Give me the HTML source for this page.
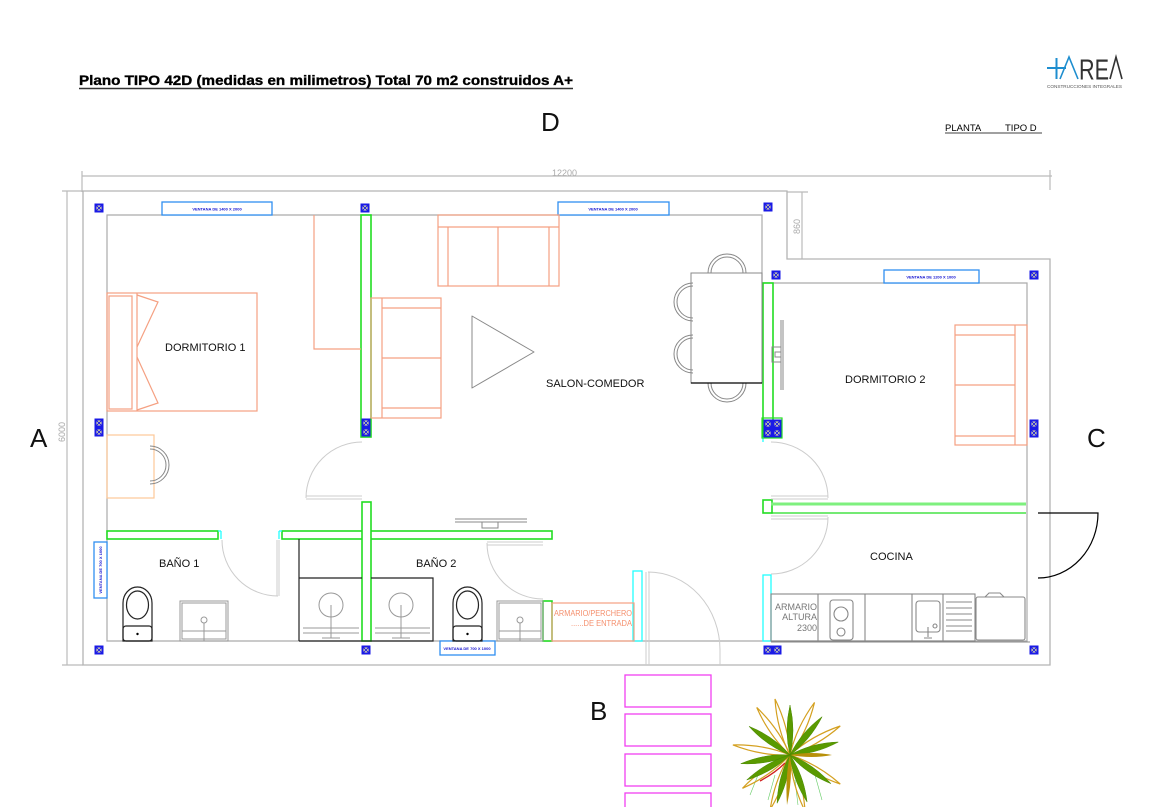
<!DOCTYPE html>
<html><head><meta charset="utf-8"><style>
html,body{margin:0;padding:0;background:#fff;}
svg{display:block;}
text{font-family:"Liberation Sans",sans-serif;}
</style></head><body>
<svg width="1165" height="807" viewBox="0 0 1165 807" xmlns="http://www.w3.org/2000/svg">
<defs>
<g id="col"><rect x="-4.5" y="-4.5" width="9" height="9" fill="#1a1ae6"/><rect x="-2.5" y="-2.5" width="5" height="5" fill="#e8e8a0"/><path d="M-3,-3L3,3M3,-3L-3,3" stroke="#1a1ae6" stroke-width="1"/></g>
<path id="leafG" d="M0,0Q6,-24 0,-50Q-6,-24 0,0Z" fill="#5a9a00" stroke="#4a8a00" stroke-width="0.5"/>
<path id="leafO" d="M0,0Q6,-28 0,-58Q-6,-28 0,0Z" fill="none" stroke="#d4a020" stroke-width="1.2"/>
</defs>

<!-- Title -->
<text x="79" y="85" font-size="13.5" font-weight="bold" fill="#000" stroke="#000" stroke-width="0.35" textLength="494" lengthAdjust="spacingAndGlyphs">Plano TIPO 42D (medidas en milimetros) Total 70 m2 construidos A+</text>
<line x1="79" y1="88.5" x2="573" y2="88.5" stroke="#333" stroke-width="1.4"/>
<text x="945" y="131" font-size="9.5" fill="#000">PLANTA</text>
<text x="1005" y="131" font-size="9.5" fill="#000">TIPO D</text>
<line x1="945" y1="133" x2="1042" y2="133" stroke="#000" stroke-width="0.8"/>

<!-- Logo -->
<path d="M1047,68H1066M1056.5,58V79" stroke="#1e8ecf" stroke-width="2" fill="none"/>
<path d="M1060,79L1069,57L1078,79" stroke="#1e8ecf" stroke-width="1.6" fill="none"/>
<text x="1079" y="79.5" font-size="29" fill="#333" textLength="30" lengthAdjust="spacingAndGlyphs">RE</text>
<path d="M1110,79L1116,57L1122,79" stroke="#333" stroke-width="1.6" fill="none"/>
<text x="1047" y="88" font-size="4.2" fill="#555" textLength="75" lengthAdjust="spacingAndGlyphs">CONSTRUCCIONES INTEGRALES</text>

<!-- Axis letters -->
<text x="30" y="447" font-size="26" fill="#111">A</text>
<text x="541" y="131" font-size="26" fill="#111">D</text>
<text x="590" y="720" font-size="26" fill="#111">B</text>
<text x="1087" y="447" font-size="26" fill="#111">C</text>

<!-- Dimensions -->
<g stroke="#bbb" stroke-width="1.2" fill="none">
<line x1="82" y1="176" x2="1052" y2="176"/>
<line x1="82" y1="171" x2="82" y2="192"/>
<line x1="1050" y1="170" x2="1050" y2="190"/>
<line x1="67" y1="191" x2="67" y2="665"/>
<line x1="62" y1="191" x2="83" y2="191"/>
<line x1="62" y1="665" x2="83" y2="665"/>
<line x1="787" y1="192" x2="808" y2="192"/>
<line x1="802" y1="192" x2="802" y2="259"/>
</g>
<text x="552" y="176" font-size="9" fill="#aaa">12200</text>
<text transform="translate(65,442) rotate(-90)" font-size="9" fill="#aaa">6000</text>
<text transform="translate(800,234) rotate(-90)" font-size="9" fill="#aaa">860</text>

<!-- Outer walls -->
<path d="M83,191H787V259H1050V665H83Z" fill="none" stroke="#b4b4b4" stroke-width="1.3"/>
<path d="M107,215H762V283H1027V641H107Z" fill="none" stroke="#aaa" stroke-width="1.2"/>

<!-- Windows -->
<g fill="#fff" stroke="#2f8ff0" stroke-width="1.3">
<rect x="162" y="202" width="110" height="13"/>
<rect x="558" y="202" width="111" height="13"/>
<rect x="884" y="270" width="95" height="13"/>
<rect x="94" y="542" width="13" height="56"/>
<rect x="440" y="641" width="55" height="14"/>
</g>
<g font-size="4" font-weight="bold" fill="#1010d0" text-anchor="middle">
<text x="217" y="210.5">VENTANA DE 1400 X 2000</text>
<text x="613" y="210.5">VENTANA DE 1400 X 2000</text>
<text x="931" y="278.5">VENTANA DE 1200 X 1000</text>
<text x="467" y="650">VENTANA DE 700 X 1000</text>
<text transform="translate(102,570) rotate(-90)">VENTANA DE 700 X 1000</text>
</g>

<!-- Green walls -->
<g fill="#fff" stroke="#22dd22" stroke-width="1.6">
<rect x="361" y="215" width="10" height="222"/>
<rect x="763" y="283" width="10" height="154"/>
<rect x="107" y="531" width="111" height="8"/>
<rect x="282" y="531" width="270" height="8"/>
<rect x="362" y="502" width="9" height="139"/>
<rect x="543" y="601" width="9" height="40"/>
<rect x="763" y="500" width="9" height="13"/>
</g>
<rect x="363" y="530" width="7" height="10" fill="#fff"/>
<line x1="771" y1="504" x2="1026" y2="504" stroke="#7ef07e" stroke-width="3"/>
<line x1="771" y1="513" x2="1026" y2="513" stroke="#22dd22" stroke-width="1.2"/>
<g fill="none" stroke="#22ffff" stroke-width="1.3">
<rect x="633" y="571" width="9" height="70"/>
<rect x="763" y="575" width="8" height="66"/>
<line x1="218" y1="531" x2="221" y2="531"/><line x1="221" y1="531" x2="221" y2="539"/>
<line x1="279" y1="531" x2="282" y2="531"/><line x1="279" y1="531" x2="279" y2="539"/>
<line x1="763" y1="437" x2="763" y2="442"/>
</g>

<!-- Columns -->
<g>
<use href="#col" x="99" y="208"/><use href="#col" x="365" y="208"/><use href="#col" x="768" y="207"/>
<use href="#col" x="776" y="275"/><use href="#col" x="1034" y="275"/>
<use href="#col" x="99" y="423"/><use href="#col" x="99" y="432"/>
<use href="#col" x="366" y="423"/><use href="#col" x="366" y="432"/>
<use href="#col" x="768" y="424"/><use href="#col" x="777" y="424"/><use href="#col" x="768" y="433"/><use href="#col" x="777" y="433"/>
<use href="#col" x="1034" y="424"/><use href="#col" x="1034" y="433"/>
<use href="#col" x="99" y="650"/><use href="#col" x="366" y="650"/>
<use href="#col" x="768" y="650"/><use href="#col" x="777" y="650"/><use href="#col" x="1034" y="650"/>
</g>
<rect x="762" y="418" width="20" height="20" fill="none" stroke="#22dd22" stroke-width="1.2"/>

<!-- Doors -->
<g fill="none" stroke="#ccc" stroke-width="1">
<path d="M362,442A56,56 0 0 0 306,498"/><path d="M306,496H362M306,499H362"/>
<path d="M222,540A56,56 0 0 0 278,596"/><path d="M277,540V596M279,540V596"/>
<path d="M487,543A56,56 0 0 0 543,599"/><path d="M487,542H543M487,545H543"/>
<path d="M648,572A72,78 0 0 1 720,650"/><path d="M646,572V665M649,572V665M720,650V665"/>
<path d="M771,442A57,56 0 0 1 828,498"/><path d="M771,496H828M771,499H828"/>
<path d="M828,517A57,57 0 0 1 771,574"/><path d="M771,516H828M771,519H828"/>
</g>
<path d="M1038,513H1098A60,65 0 0 1 1038,578" fill="none" stroke="#000" stroke-width="1.2"/>

<!-- Furniture orange -->
<g fill="none" stroke="#f5a082" stroke-width="1.2">
<rect x="107" y="293" width="150" height="118"/>
<rect x="109" y="296" width="23" height="113"/>
<line x1="137" y1="293" x2="137" y2="411"/>
<path d="M137,295L158,302L137,347M137,357L158,403L137,410"/>
<path d="M314,215V349H361"/>
<rect x="438" y="215" width="121" height="71"/>
<path d="M438,227H559M448,227V286M498,227V286M549,227V286"/>
<rect x="371" y="298" width="70" height="120"/>
<path d="M382,308H441M382,408H441M382,298V418M382,358H441"/>
<rect x="955" y="325" width="72" height="120"/>
<path d="M1015,325V445M955,335H1015M955,385H1015M955,436H1015"/>
<rect x="552" y="603" width="82" height="38"/>
</g>
<rect x="107" y="435" width="47" height="63" fill="none" stroke="#fdc898" stroke-width="1.2"/>
<text x="554" y="616" font-size="8" fill="#f5906e" textLength="78" lengthAdjust="spacingAndGlyphs">ARMARIO/PERCHERO</text>
<text x="571" y="626" font-size="8" fill="#f5906e" textLength="61" lengthAdjust="spacingAndGlyphs">......DE ENTRADA</text>

<!-- Gray furniture -->
<g fill="none" stroke="#888" stroke-width="1">
<path d="M472,316L534,352L472,388Z" stroke-linejoin="round"/>
<rect x="691" y="273" width="71" height="110"/>
<path d="M708,273A19,19 0 0 1 746,273M711,273A16,16 0 0 1 743,273"/>
<path d="M708,383A19,19 0 0 0 746,383M711,383A16,16 0 0 0 743,383"/>
<path d="M693,283A19,19 0 0 0 693,321M693,286A16,16 0 0 0 693,318"/>
<path d="M693,335A19,19 0 0 0 693,373M693,338A16,16 0 0 0 693,370"/>
<path d="M150,446A19,19 0 0 1 150,484M150,449A16,16 0 0 1 150,481"/>
<path d="M781,320V390M783,320V390"/>
<rect x="772" y="347" width="9" height="15"/><rect x="775" y="352" width="6" height="5"/>
<path d="M455,519H527M455,522H527"/><rect x="482" y="522" width="16" height="6"/>
</g>
<line x1="691" y1="383" x2="762" y2="383" stroke="#000" stroke-width="1.2"/>

<!-- Bathrooms -->
<g fill="none" stroke="#222" stroke-width="1.2">
<path d="M123,641V603A14.5,16 0 0 1 152,603V641Z"/>
<ellipse cx="137.5" cy="605" rx="11" ry="14"/>
<rect x="123" y="626" width="29" height="15" rx="3"/>
<path d="M453,641V603A14.5,16 0 0 1 482,603V641Z"/>
<ellipse cx="467.5" cy="605" rx="11" ry="14"/>
<rect x="453" y="626" width="29" height="15" rx="3"/>
<path d="M299,641V539M299,578H362M371,578H433V641H299"/>
</g>
<circle cx="137.5" cy="634" r="1.2" fill="#000"/><circle cx="467.5" cy="634" r="1.2" fill="#000"/>
<g fill="none" stroke="#999" stroke-width="1">
<rect x="180" y="601" width="48" height="40"/><rect x="182" y="603" width="44" height="36"/>
<line x1="182" y1="631" x2="226" y2="631"/><circle cx="204" cy="620" r="3"/><line x1="204" y1="623" x2="204" y2="641"/>
<rect x="497" y="601" width="46" height="40"/><rect x="499" y="603" width="42" height="36"/>
<line x1="499" y1="631" x2="541" y2="631"/><circle cx="520" cy="620" r="3"/><line x1="520" y1="623" x2="520" y2="641"/>
<circle cx="331" cy="605" r="12"/><circle cx="401" cy="605" r="12"/>
<path d="M303,628H359M303,633H359M375,628H430M375,633H430"/>
<path d="M331,605V638M401,605V638M322,638H340M392,638H410"/>
</g>

<!-- Kitchen -->
<g fill="none" stroke="#888" stroke-width="1.1">
<rect x="771" y="594" width="204" height="47"/>
<path d="M818,594V641M865,594V641M912,594V641M943,594V641"/>
<rect x="830" y="600" width="23" height="40" rx="3"/>
<circle cx="841" cy="614" r="7"/><circle cx="841" cy="632" r="4"/>
<rect x="916" y="601" width="24" height="31" rx="3"/>
<circle cx="935" cy="626" r="2"/><path d="M928,627V637M924,638H932"/>
<path d="M946,602H972M946,608H972M946,614H972M946,620H972M946,626H972M946,631H972"/>
<rect x="976" y="597" width="49" height="43" rx="2"/>
<path d="M985,597L989,593H1000L1004,597M980,640H1023"/>
<line x1="771" y1="642" x2="1030" y2="642"/>
</g>
<g font-size="9" fill="#777" text-anchor="end" font-family="Liberation Mono,monospace">
<text x="817" y="610">ARMARIO</text><text x="817" y="620">ALTURA</text><text x="817" y="631">2300</text>
</g>

<!-- Room labels -->
<g font-size="11" fill="#111">
<text x="165" y="351">DORMITORIO 1</text>
<text x="546" y="387">SALON-COMEDOR</text>
<text x="845" y="383">DORMITORIO 2</text>
<text x="159" y="567">BAÑO 1</text>
<text x="416" y="567">BAÑO 2</text>
<text x="870" y="560">COCINA</text>
</g>

<!-- Magenta rects -->
<g fill="none" stroke="#f040f0" stroke-width="1.3">
<rect x="625" y="675" width="86" height="32"/>
<rect x="625" y="714" width="86" height="32"/>
<rect x="625" y="754" width="86" height="32"/>
<rect x="625" y="793" width="86" height="20"/>
</g>

<!-- Plant -->
<g transform="translate(790,755)">
<g stroke="#66cc66" stroke-width="0.6" fill="none">
<path d="M-15,20L-22,45M5,25L8,50M25,20L32,45M-30,15L-40,40"/>
</g>
<use href="#leafO" transform="rotate(-80)"/>
<use href="#leafO" transform="rotate(-35)"/>
<use href="#leafO" transform="rotate(25)"/>
<use href="#leafO" transform="rotate(60)"/>
<use href="#leafO" transform="rotate(120)"/>
<use href="#leafO" transform="rotate(165)"/>
<use href="#leafO" transform="rotate(200)"/>
<use href="#leafO" transform="rotate(235)"/>
<use href="#leafO" transform="rotate(-15)"/>
<use href="#leafG" transform="rotate(0)"/>
<use href="#leafG" transform="rotate(40)"/>
<use href="#leafG" transform="rotate(-55)"/>
<use href="#leafG" transform="rotate(-100)"/>
<use href="#leafG" transform="rotate(75)"/>
<use href="#leafG" transform="rotate(125)"/>
<use href="#leafG" transform="rotate(160)"/>
<use href="#leafG" transform="rotate(195)"/>
<use href="#leafG" transform="rotate(240)"/>
<path d="M0,0Q22,-4 42,0Q22,4 0,0Z" fill="#b8900a"/>
<path d="M0,0Q-5,22 -3,50Q3,22 0,0Z" fill="#b8900a"/>
<path d="M-5,8Q-15,18 -30,26" stroke="#d02020" stroke-width="1.3" fill="none"/>
</g>
</svg>
</body></html>
